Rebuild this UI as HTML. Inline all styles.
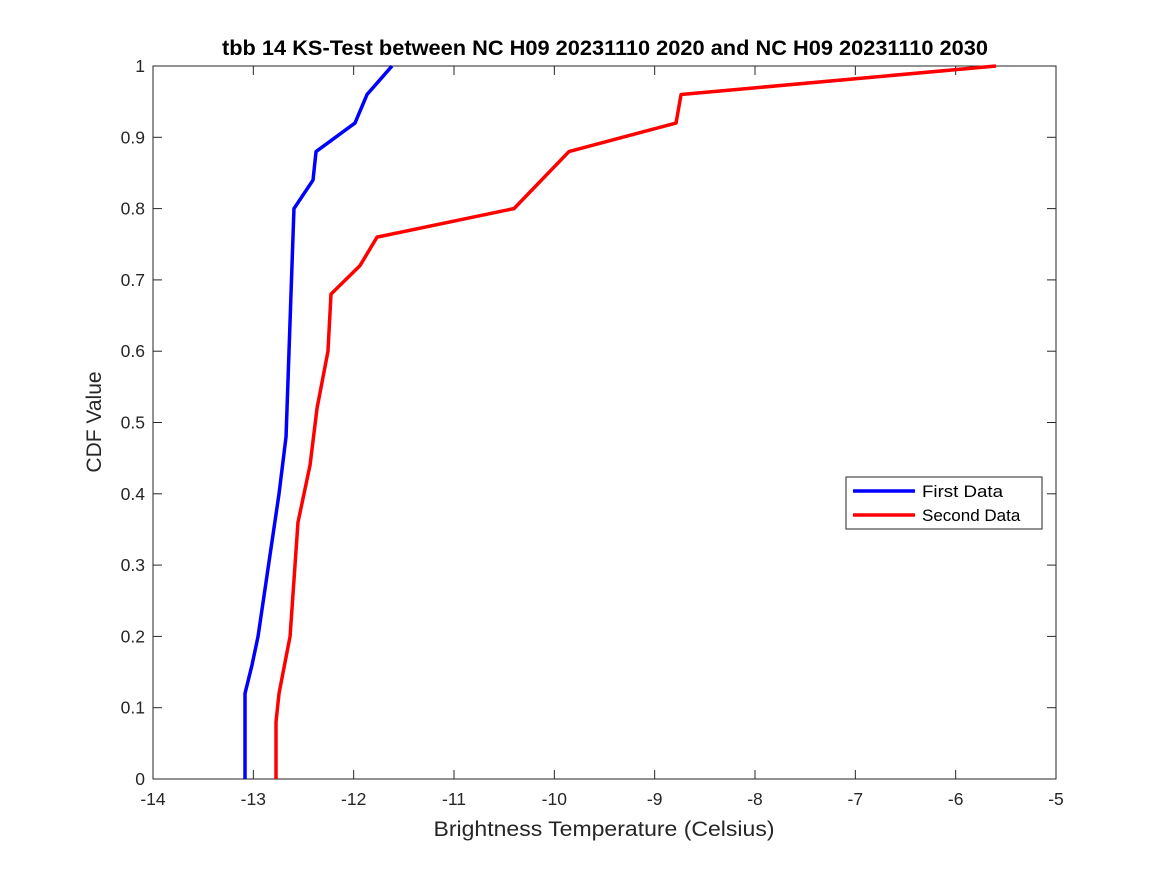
<!DOCTYPE html>
<html><head><meta charset="utf-8"><style>
body{margin:0;background:#fff;}
svg{display:block;font-family:"Liberation Sans",sans-serif;}
</style></head><body>
<svg id="chart" width="1167" height="875">
<rect width="1167" height="875" fill="#fff"/>
<g id="axes"></g>
<g id="series"></g>
<text x="605" y="55" text-anchor="middle" font-size="21" font-weight="bold" textLength="766" lengthAdjust="spacingAndGlyphs">tbb 14 KS-Test between NC H09 20231110 2020 and NC H09 20231110 2030</text>
<text x="604" y="836" text-anchor="middle" font-size="21" fill="#262626" textLength="341" lengthAdjust="spacingAndGlyphs">Brightness Temperature (Celsius)</text>
<text transform="translate(101,422) rotate(-90)" text-anchor="middle" font-size="21" fill="#262626">CDF Value</text>
<g>
<rect x="846" y="477" width="196" height="52" fill="#fff" stroke="#262626" stroke-width="1"/>
<line x1="853" y1="491" x2="915" y2="491" stroke="#0000ff" stroke-width="3.5"/>
<text x="922" y="497" font-size="17" textLength="81" lengthAdjust="spacingAndGlyphs">First Data</text>
<line x1="853" y1="515" x2="915" y2="515" stroke="#ff0000" stroke-width="3.5"/>
<text x="922" y="521" font-size="17">Second Data</text>
</g>
</svg>
<script>
const xTicks=[-14,-13,-12,-11,-10,-9,-8,-7,-6,-5];
const yTicks=[0,0.1,0.2,0.3,0.4,0.5,0.6,0.7,0.8,0.9,1];
const firstX=[-13.083,-13.083,-13.013,-12.953,-12.744,-12.674,-12.595,-12.405,-12.375,-11.987,-11.867,-11.618];
const firstY=[0,0.12,0.16,0.2,0.4,0.48,0.8,0.84,0.88,0.92,0.96,1];
const secondX=[-12.774,-12.774,-12.744,-12.634,-12.555,-12.435,-12.365,-12.256,-12.226,-11.937,-11.767,-10.402,-9.854,-8.787,-8.737,-5.598];
const secondY=[0,0.08,0.12,0.2,0.36,0.44,0.52,0.6,0.68,0.72,0.76,0.8,0.88,0.92,0.96,1];
const L=153,R=1056,T=66,B=779;
const sx=v=>L+(v+14)/9*(R-L);
const sy=v=>B-v*(B-T);
const NS="http://www.w3.org/2000/svg";
const ax=document.getElementById('axes'),se=document.getElementById('series');
function mk(tag,attrs,parent){const e=document.createElementNS(NS,tag);for(const k in attrs)e.setAttribute(k,attrs[k]);parent.appendChild(e);return e;}
const box=mk('rect',{x:L,y:T,width:R-L,height:B-T,fill:'none',stroke:'#262626','stroke-width':1},ax);


xTicks.forEach(t=>{const x=sx(t);
mk('line',{x1:x,y1:B,x2:x,y2:B-9,stroke:'#262626'},ax);
mk('line',{x1:x,y1:T,x2:x,y2:T+9,stroke:'#262626'},ax);
const tx=mk('text',{x:x,y:B+26,'text-anchor':'middle','font-size':17.5,fill:'#262626'},ax);tx.textContent=t;

});
yTicks.forEach(t=>{const y=sy(t);
mk('line',{x1:L,y1:y,x2:L+9,y2:y,stroke:'#262626'},ax);
mk('line',{x1:R,y1:y,x2:R-9,y2:y,stroke:'#262626'},ax);
const tx=mk('text',{x:L-8,y:y+6,'text-anchor':'end','font-size':17.5,fill:'#262626'},ax);tx.textContent=t;

});
function line(xs,ys,color,name){const p=mk('polyline',{points:xs.map((v,i)=>sx(v)+','+sy(ys[i])).join(' '),fill:'none',stroke:color,'stroke-width':3.5,'stroke-linejoin':'round'},se);

}
line(firstX,firstY,'#0000ff','first-data-line');
line(secondX,secondY,'#ff0000','second-data-line');
</script>
</body></html>
